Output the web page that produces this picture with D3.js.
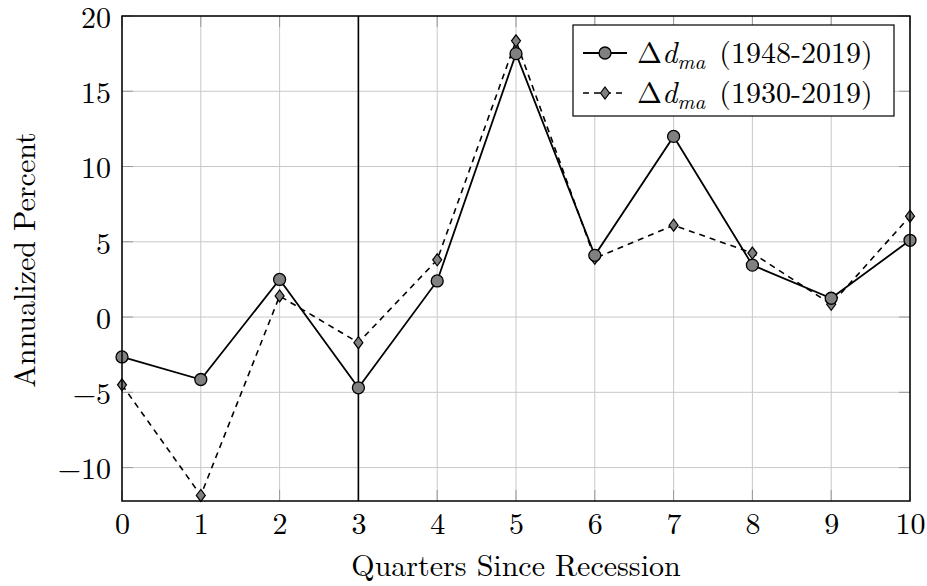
<!DOCTYPE html>
<html>
<head>
<meta charset="utf-8">
<script src="https://cdn.jsdelivr.net/npm/d3@7/dist/d3.min.js"></script>
<style>
  body { margin: 0; background: #fff; }
  svg { font-family: "Latin Modern Roman", "CMU Serif", serif; }
  .grid line { stroke: #c8c8c8; stroke-width: 1; }
</style>
</head>
<body>
<div id="chart"></div>
<script>
var WIDTH = 927, HEIGHT = 586;
var margin = {top: 16, right: 17, bottom: 85, left: 122};
var FONT = 30;

var quarters = [0, 1, 2, 3, 4, 5, 6, 7, 8, 9, 10];
var dma1948 = [-2.65, -4.15, 2.5, -4.7, 2.4, 17.5, 4.1, 12.0, 3.45, 1.25, 5.1];
var dma1930 = [-4.5, -11.85, 1.4, -1.7, 3.8, 18.35, 3.9, 6.1, 4.25, 0.85, 6.7];
var yTicks = [-10, -5, 0, 5, 10, 15, 20];
var recessionMark = 3;
var legendLabels = ["(1948-2019)", "(1930-2019)"];

var w = WIDTH - margin.left - margin.right;
var h = HEIGHT - margin.top - margin.bottom;

var svg = d3.select("#chart").append("svg")
  .attr("width", WIDTH)
  .attr("height", HEIGHT);

var g = svg.append("g")
  .attr("transform", "translate(" + margin.left + "," + margin.top + ")");

var x = d3.scaleLinear().domain([0, 10]).range([0, w]);
var y = d3.scaleLinear().domain([-12.22, 20]).range([h, 0]);

// grid
g.append("g").attr("class", "grid")
  .selectAll("line").data(quarters).enter().append("line")
  .attr("x1", d => x(d)).attr("x2", d => x(d))
  .attr("y1", 0).attr("y2", h);
g.append("g").attr("class", "grid")
  .selectAll("line").data(yTicks).enter().append("line")
  .attr("x1", 0).attr("x2", w)
  .attr("y1", d => y(d)).attr("y2", d => y(d));

// axes (labels only, ticks drawn inside below)
var fmt = d => d < 0 ? "\u2212" + Math.abs(d) : String(d);
g.append("g")
  .attr("transform", "translate(0," + h + ")")
  .call(d3.axisBottom(x).tickValues(quarters).tickSize(0).tickPadding(12).tickFormat(fmt))
  .attr("font-family", null).attr("font-size", FONT)
  .call(a => a.select(".domain").remove())
  .call(a => a.selectAll("text").attr("fill", "#000"));
g.append("g")
  .call(d3.axisLeft(y).tickValues(yTicks).tickSize(0).tickPadding(11).tickFormat(fmt))
  .attr("font-family", null).attr("font-size", FONT)
  .call(a => a.select(".domain").remove())
  .call(a => a.selectAll("text").attr("fill", "#000").attr("dy", "0.38em"));

var tickG = g.append("g").attr("stroke", "#999").attr("stroke-width", 1);
yTicks.forEach(function(d) {
  tickG.append("line").attr("x1", 0).attr("x2", 11).attr("y1", y(d)).attr("y2", y(d));
  tickG.append("line").attr("x1", w - 11).attr("x2", w).attr("y1", y(d)).attr("y2", y(d));
});
quarters.forEach(function(d) {
  tickG.append("line").attr("x1", x(d)).attr("x2", x(d)).attr("y1", h).attr("y2", h - 11);
  tickG.append("line").attr("x1", x(d)).attr("x2", x(d)).attr("y1", 0).attr("y2", 11);
});

// vertical line at recession quarter
g.append("line")
  .attr("x1", x(recessionMark)).attr("x2", x(recessionMark))
  .attr("y1", 0).attr("y2", h)
  .attr("stroke", "#000").attr("stroke-width", 1.6);

var line = d3.line()
  .x(function(d, i) { return x(quarters[i]); })
  .y(function(d) { return y(d); });

g.append("path")
  .attr("d", line(dma1930))
  .attr("fill", "none")
  .attr("stroke", "#000")
  .attr("stroke-width", 1.6)
  .attr("stroke-dasharray", "6,5");

g.append("path")
  .attr("d", line(dma1948))
  .attr("fill", "none")
  .attr("stroke", "#000")
  .attr("stroke-width", 1.8);

var diamond = "M0,-6L4.5,0L0,6L-4.5,0Z";

g.selectAll(".dia").data(dma1930).enter().append("path")
  .attr("class", "dia")
  .attr("transform", function(d, i) { return "translate(" + x(quarters[i]) + "," + y(d) + ")"; })
  .attr("d", diamond)
  .attr("fill", "#808080").attr("stroke", "#000").attr("stroke-width", 1.2);

g.selectAll(".dot").data(dma1948).enter().append("circle")
  .attr("class", "dot")
  .attr("cx", function(d, i) { return x(quarters[i]); })
  .attr("cy", function(d) { return y(d); })
  .attr("r", 6)
  .attr("fill", "#808080").attr("stroke", "#000").attr("stroke-width", 1.3);

// frame
g.append("rect")
  .attr("width", w).attr("height", h)
  .attr("fill", "none").attr("stroke", "#000").attr("stroke-width", 1.5);

// legend
var lg = svg.append("g").attr("transform", "translate(573,25)");
lg.append("rect").attr("width", 321).attr("height", 91)
  .attr("fill", "#fff").attr("stroke", "#000").attr("stroke-width", 1.2);

[0, 1].forEach(function(i) {
  var ly = 28 + i * 40;
  var row = lg.append("g").attr("transform", "translate(0," + ly + ")");
  row.append("line").attr("x1", 10).attr("x2", 54).attr("y1", 0).attr("y2", 0)
    .attr("stroke", "#000").attr("stroke-width", i ? 1.6 : 1.8)
    .attr("stroke-dasharray", i ? "6,5" : null);
  if (i) {
    row.append("path").attr("transform", "translate(32,0)").attr("d", diamond)
      .attr("fill", "#808080").attr("stroke", "#000").attr("stroke-width", 1.2);
  } else {
    row.append("circle").attr("cx", 32).attr("r", 6)
      .attr("fill", "#808080").attr("stroke", "#000").attr("stroke-width", 1.3);
  }
  var t = row.append("text").attr("x", 64).attr("y", 10).attr("font-size", FONT);
  t.append("tspan").text("\u0394");
  t.append("tspan").attr("font-style", "italic").text("d");
  t.append("tspan").attr("font-style", "italic").attr("font-size", 21).attr("dy", 6).text("ma");
  t.append("tspan").attr("dy", -6).attr("dx", 14).text(legendLabels[i]);
});

// axis labels
svg.append("text")
  .attr("x", margin.left + w / 2).attr("y", 576)
  .attr("text-anchor", "middle").attr("font-size", FONT)
  .text("Quarters Since Recession");
svg.append("text")
  .attr("transform", "translate(35," + 260 + ") rotate(-90)")
  .attr("text-anchor", "middle").attr("font-size", FONT)
  .text("Annualized Percent");
</script>
</body>
</html>
